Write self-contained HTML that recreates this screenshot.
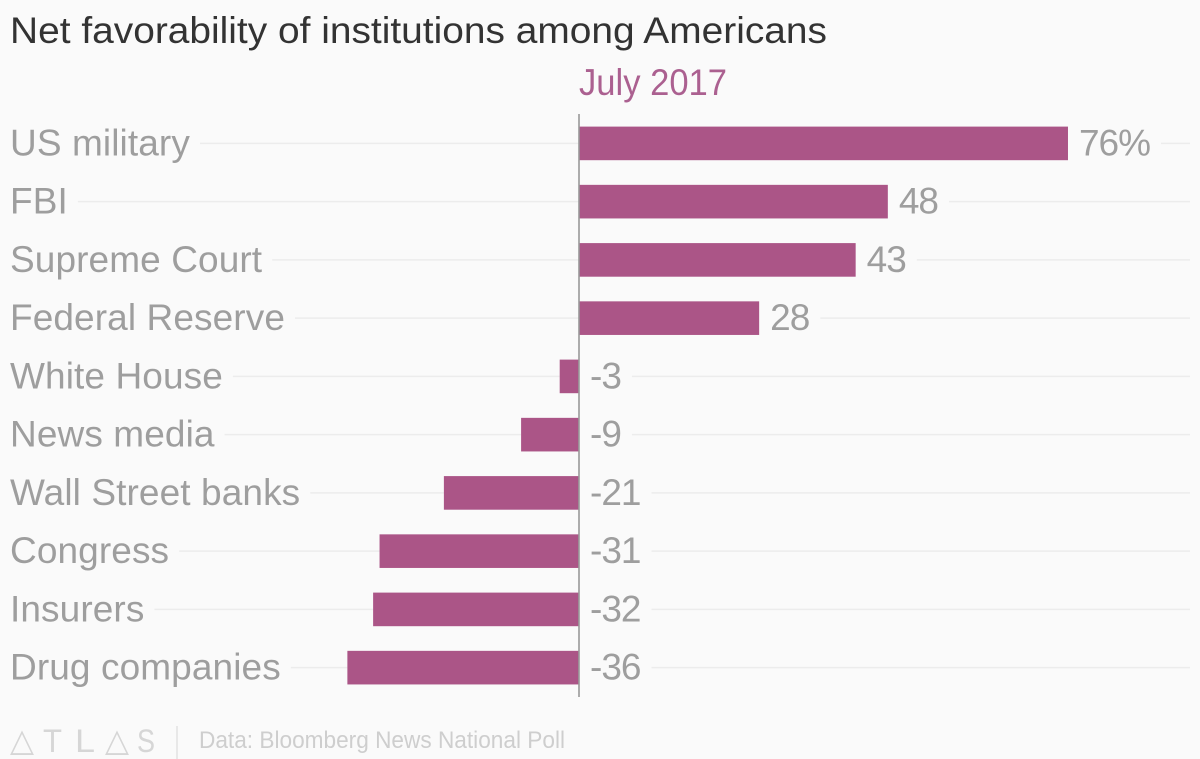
<!DOCTYPE html>
<html lang="en">
<head>
<meta charset="utf-8">
<title>Net favorability of institutions among Americans</title>
<style>
html,body{margin:0;padding:0;background:#fafafa;width:1200px;height:759px;overflow:hidden}
svg{display:block}
text{font-family:"Liberation Sans",sans-serif}
</style>
</head>
<body>
<svg id="chart" xmlns="http://www.w3.org/2000/svg" width="1200" height="759" viewBox="0 0 1200 759">
  <rect x="0" y="0" width="1200" height="759" fill="#fafafa"/>
  <text x="10" y="43" font-size="37" fill="#333333" textLength="817" lengthAdjust="spacingAndGlyphs">Net favorability of institutions among Americans</text>
  <text x="579" y="95" font-size="37" fill="#ab6090" textLength="148" lengthAdjust="spacingAndGlyphs">July 2017</text>
  <g id="grid"></g>
  <g id="bars"></g>
  <g id="cats"></g>
  <g id="vals"></g>
  <line x1="579" x2="579" y1="114" y2="697" stroke="#999999" stroke-width="1.6"/>
  <g fill="#d6d6d6" font-size="32">
    <text x="10" y="751" textLength="24" lengthAdjust="spacingAndGlyphs" font-family="DejaVu Sans">△</text>
    <text x="43" y="752" textLength="19" lengthAdjust="spacingAndGlyphs">T</text>
    <text x="75" y="752" textLength="20" lengthAdjust="spacingAndGlyphs">L</text>
    <text x="105" y="751" textLength="24" lengthAdjust="spacingAndGlyphs" font-family="DejaVu Sans">△</text>
    <text x="137" y="752" textLength="18" lengthAdjust="spacingAndGlyphs">S</text>
  </g>
  <line x1="177" x2="177" y1="726" y2="759" stroke="#d6d6d6" stroke-width="1"/>
  <text x="199" y="748" font-size="24" fill="#cecece" textLength="366" lengthAdjust="spacingAndGlyphs">Data: Bloomberg News National Poll</text>
</svg>
<script>
const categories = ["US military", "FBI", "Supreme Court", "Federal Reserve", "White House", "News media", "Wall Street banks", "Congress", "Insurers", "Drug companies"];
const netFavorability = [76, 48, 43, 28, -3, -9, -21, -31, -32, -36];
const valueSuffixes = ["%", "", "", "", "", "", "", "", "", ""];

const NS = "http://www.w3.org/2000/svg";
function xScale(v) { return 579 + v * 6.434; }
function yScale(i) { return 143.4 + i * 58.25; }
function make(tag, parent, attrs, txt) {
  const el = document.createElementNS(NS, tag);
  for (const k in attrs) el.setAttribute(k, attrs[k]);
  if (txt !== undefined) el.textContent = txt;
  parent.appendChild(el);
  return el;
}
const gridG = document.getElementById("grid");
const barsG = document.getElementById("bars");
const catsG = document.getElementById("cats");
const valsG = document.getElementById("vals");
const GRID_END = 1190;

categories.forEach(function (cat, i) {
  const v = netFavorability[i];
  const cy = yScale(i);
  const x0 = xScale(0), xv = xScale(v);

  const catText = make("text", catsG, { x: 10, y: cy + 12, "font-size": 37, "letter-spacing": 0.1, fill: "#9e9e9e" }, cat);
  
  

  const bar = make("rect", barsG, { x: Math.min(x0, xv), y: cy - 16.8, width: Math.abs(xv - x0), height: 33.6, fill: "#ab5587" });
  
  

  const valX = v >= 0 ? xv + 11 : x0 + 11;
  const valText = make("text", valsG, { x: valX, y: cy + 12, "font-size": 37, "letter-spacing": -1, fill: "#9e9e9e" }, String(v) + valueSuffixes[i]);
  
  

  const leftStart = 10 + catText.getComputedTextLength() + 10;
  const leftEnd = Math.min(x0, xv);
  const left = make("line", gridG, { x1: leftStart, x2: leftEnd, y1: cy, y2: cy, stroke: "#ececec", "stroke-width": 1.5 });
  
  

  const rightStart = valX + valText.getComputedTextLength() + 11;
  const right = make("line", gridG, { x1: rightStart, x2: GRID_END, y1: cy, y2: cy, stroke: "#ececec", "stroke-width": 1.5 });
  
  
});
</script>
</body>
</html>
